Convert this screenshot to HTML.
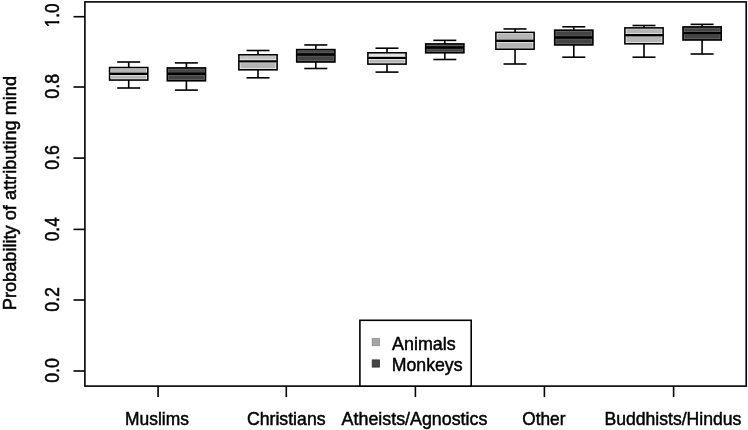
<!DOCTYPE html>
<html><head><meta charset="utf-8"><title>Probability of attributing mind</title>
<style>
html,body{margin:0;padding:0;background:#fff;}
svg{display:block;font-family:"Liberation Sans",Arial,Helvetica,sans-serif;font-size:19.0px;}
text{fill:#000;stroke:#000;stroke-width:0.5px;}
</style></head><body>
<svg width="748" height="430" viewBox="0 0 748 430">
<rect x="0" y="0" width="748" height="430" fill="#fff"/>

<rect x="84.9" y="1.9" width="661.3" height="384.2" fill="none" stroke="#000" stroke-width="1.6"/>
<line x1="73.5" y1="16.7" x2="84.9" y2="16.7" stroke="#000" stroke-width="1.6"/>
<line x1="73.5" y1="87.0" x2="84.9" y2="87.0" stroke="#000" stroke-width="1.6"/>
<line x1="73.5" y1="158.1" x2="84.9" y2="158.1" stroke="#000" stroke-width="1.6"/>
<line x1="73.5" y1="229.4" x2="84.9" y2="229.4" stroke="#000" stroke-width="1.6"/>
<line x1="73.5" y1="300.0" x2="84.9" y2="300.0" stroke="#000" stroke-width="1.6"/>
<line x1="73.5" y1="371.0" x2="84.9" y2="371.0" stroke="#000" stroke-width="1.6"/>
<line x1="158.1" y1="386.1" x2="158.1" y2="397.1" stroke="#000" stroke-width="1.6"/>
<line x1="286.3" y1="386.1" x2="286.3" y2="397.1" stroke="#000" stroke-width="1.6"/>
<line x1="415.4" y1="386.1" x2="415.4" y2="397.1" stroke="#000" stroke-width="1.6"/>
<line x1="544.4" y1="386.1" x2="544.4" y2="397.1" stroke="#000" stroke-width="1.6"/>
<line x1="673.6" y1="386.1" x2="673.6" y2="397.1" stroke="#000" stroke-width="1.6"/>
<g stroke="#000" stroke-width="1.6" fill="none">
<line x1="128.7" y1="62.0" x2="128.7" y2="88.0"/>
<line x1="117.2" y1="62.0" x2="140.2" y2="62.0"/>
<line x1="117.2" y1="88.0" x2="140.2" y2="88.0"/>
<rect x="109.6" y="67.55" width="38.2" height="12.5" fill="#fff"/>
<rect x="111.1" y="68.9" width="35.2" height="9.8" fill="#b4b4b4" stroke="none"/>
<rect x="110.4" y="72.0" width="36.6" height="3.5" fill="#fff" stroke="none"/>
<line x1="109.6" y1="73.8" x2="147.8" y2="73.8" stroke-width="2.4"/>
</g>
<g stroke="#000" stroke-width="1.6" fill="none">
<line x1="186.4" y1="62.9" x2="186.4" y2="90.1"/>
<line x1="174.9" y1="62.9" x2="197.9" y2="62.9"/>
<line x1="174.9" y1="90.1" x2="197.9" y2="90.1"/>
<rect x="167.3" y="67.9" width="38.2" height="12.9" fill="#444444"/>
<rect x="168.6" y="69.2" width="35.6" height="10.3" fill="none" stroke="#6e6e6e" stroke-width="0.6"/>
<rect x="168.6" y="72.1" width="35.6" height="3.2" fill="none" stroke="#6e6e6e" stroke-width="0.5"/>
<line x1="167.3" y1="73.7" x2="205.5" y2="73.7" stroke-width="2.4"/>
</g>
<g stroke="#000" stroke-width="1.6" fill="none">
<line x1="258.0" y1="50.5" x2="258.0" y2="77.8"/>
<line x1="246.5" y1="50.5" x2="269.5" y2="50.5"/>
<line x1="246.5" y1="77.8" x2="269.5" y2="77.8"/>
<rect x="238.9" y="54.8" width="38.2" height="15.0" fill="#fff"/>
<rect x="240.4" y="56.1" width="35.2" height="12.3" fill="#b4b4b4" stroke="none"/>
<rect x="240.4" y="56.1" width="35.2" height="5.2" fill="#c4c4c4" stroke="none"/>
<rect x="239.7" y="59.6" width="36.6" height="3.5" fill="#fff" stroke="none"/>
<line x1="238.9" y1="61.35" x2="277.1" y2="61.35" stroke-width="2.4"/>
</g>
<g stroke="#000" stroke-width="1.6" fill="none">
<line x1="315.8" y1="44.95" x2="315.8" y2="68.5"/>
<line x1="304.3" y1="44.95" x2="327.3" y2="44.95"/>
<line x1="304.3" y1="68.5" x2="327.3" y2="68.5"/>
<rect x="296.7" y="49.6" width="38.2" height="12.4" fill="#444444"/>
<rect x="298.0" y="50.9" width="35.6" height="9.8" fill="none" stroke="#6e6e6e" stroke-width="0.6"/>
<rect x="298.0" y="52.9" width="35.6" height="3.2" fill="none" stroke="#6e6e6e" stroke-width="0.5"/>
<line x1="296.7" y1="54.45" x2="334.9" y2="54.45" stroke-width="2.4"/>
</g>
<g stroke="#000" stroke-width="1.6" fill="none">
<line x1="387.0" y1="48.2" x2="387.0" y2="72.1"/>
<line x1="375.5" y1="48.2" x2="398.5" y2="48.2"/>
<line x1="375.5" y1="72.1" x2="398.5" y2="72.1"/>
<rect x="367.9" y="52.8" width="38.2" height="11.3" fill="#fff"/>
<rect x="369.4" y="54.1" width="35.2" height="8.6" fill="#b4b4b4" stroke="none"/>
<rect x="369.4" y="54.1" width="35.2" height="3.8" fill="#e6e6e6" stroke="none"/>
<rect x="368.7" y="56.1" width="36.6" height="3.5" fill="#fff" stroke="none"/>
<line x1="367.9" y1="57.9" x2="406.1" y2="57.9" stroke-width="2.4"/>
</g>
<g stroke="#000" stroke-width="1.6" fill="none">
<line x1="444.8" y1="40.35" x2="444.8" y2="59.5"/>
<line x1="433.3" y1="40.35" x2="456.3" y2="40.35"/>
<line x1="433.3" y1="59.5" x2="456.3" y2="59.5"/>
<rect x="425.7" y="43.9" width="38.2" height="8.9" fill="#444444"/>
<rect x="427.0" y="45.2" width="35.6" height="6.3" fill="none" stroke="#6e6e6e" stroke-width="0.6"/>
<rect x="427.0" y="45.9" width="35.6" height="3.2" fill="none" stroke="#6e6e6e" stroke-width="0.5"/>
<line x1="425.7" y1="47.5" x2="463.9" y2="47.5" stroke-width="2.4"/>
</g>
<g stroke="#000" stroke-width="1.6" fill="none">
<line x1="515.05" y1="28.95" x2="515.05" y2="64.0"/>
<line x1="503.5" y1="28.95" x2="526.5" y2="28.95"/>
<line x1="503.5" y1="64.0" x2="526.5" y2="64.0"/>
<rect x="495.9" y="32.4" width="38.2" height="16.8" fill="#fff"/>
<rect x="497.4" y="33.8" width="35.2" height="14.1" fill="#b4b4b4" stroke="none"/>
<rect x="496.7" y="39.0" width="36.6" height="3.5" fill="#fff" stroke="none"/>
<line x1="495.9" y1="40.7" x2="534.1" y2="40.7" stroke-width="2.4"/>
</g>
<g stroke="#000" stroke-width="1.6" fill="none">
<line x1="573.8" y1="26.8" x2="573.8" y2="57.2"/>
<line x1="562.3" y1="26.8" x2="585.3" y2="26.8"/>
<line x1="562.3" y1="57.2" x2="585.3" y2="57.2"/>
<rect x="554.7" y="30.15" width="38.2" height="14.8" fill="#444444"/>
<rect x="556.0" y="31.4" width="35.6" height="12.2" fill="none" stroke="#6e6e6e" stroke-width="0.6"/>
<rect x="556.0" y="35.9" width="35.6" height="3.2" fill="none" stroke="#6e6e6e" stroke-width="0.5"/>
<line x1="554.7" y1="37.55" x2="592.9" y2="37.55" stroke-width="2.4"/>
</g>
<g stroke="#000" stroke-width="1.6" fill="none">
<line x1="644.0" y1="25.5" x2="644.0" y2="57.2"/>
<line x1="632.5" y1="25.5" x2="655.5" y2="25.5"/>
<line x1="632.5" y1="57.2" x2="655.5" y2="57.2"/>
<rect x="624.9" y="27.9" width="38.2" height="15.9" fill="#fff"/>
<rect x="626.4" y="29.2" width="35.2" height="13.2" fill="#b4b4b4" stroke="none"/>
<rect x="625.7" y="33.5" width="36.6" height="3.5" fill="#fff" stroke="none"/>
<line x1="624.9" y1="35.2" x2="663.1" y2="35.2" stroke-width="2.4"/>
</g>
<g stroke="#000" stroke-width="1.6" fill="none">
<line x1="702.1" y1="24.35" x2="702.1" y2="54.0"/>
<line x1="690.6" y1="24.35" x2="713.6" y2="24.35"/>
<line x1="690.6" y1="54.0" x2="713.6" y2="54.0"/>
<rect x="683.0" y="26.9" width="38.2" height="13.1" fill="#444444"/>
<rect x="684.3" y="28.2" width="35.6" height="10.5" fill="none" stroke="#6e6e6e" stroke-width="0.6"/>
<rect x="684.3" y="31.5" width="35.6" height="3.2" fill="none" stroke="#6e6e6e" stroke-width="0.5"/>
<line x1="683.0" y1="33.1" x2="721.2" y2="33.1" stroke-width="2.4"/>
</g>
<rect x="359.9" y="320.3" width="111.3" height="65.8" fill="#fff" stroke="#000" stroke-width="1.6"/>
<rect x="372.2" y="338.5" width="7.2" height="7.2" fill="#a4a4a4" stroke="#8c8c8c" stroke-width="0.8"/>
<rect x="372.2" y="359.9" width="7.2" height="7.2" fill="#444" stroke="#2e2e2e" stroke-width="0.8"/>
<text font-size="19.0" x="125.00" y="424.65" textLength="63.86" lengthAdjust="spacingAndGlyphs">Muslims</text>
<text font-size="19.0" x="246.88" y="424.65" textLength="78.71" lengthAdjust="spacingAndGlyphs">Christians</text>
<text font-size="19.0" x="341.62" y="424.65" textLength="145.76" lengthAdjust="spacingAndGlyphs">Atheists/Agnostics</text>
<text font-size="19.0" x="522.35" y="424.65" textLength="43.09" lengthAdjust="spacingAndGlyphs">Other</text>
<text font-size="19.0" x="604.43" y="424.65" textLength="136.99" lengthAdjust="spacingAndGlyphs">Buddhists/Hindus</text>
<text font-size="19.0" x="392.09" y="350.05" textLength="63.61" lengthAdjust="spacingAndGlyphs">Animals</text>
<text font-size="19.0" x="391.77" y="371.05" textLength="70.73" lengthAdjust="spacingAndGlyphs">Monkeys</text>
<text font-size="18.9" transform="translate(15.80,310.16) rotate(-90)" textLength="234.23" lengthAdjust="spacingAndGlyphs">Probability of attributing mind</text>
<text font-size="19.6" transform="translate(58.90,27.33) rotate(-90)" textLength="23.93" lengthAdjust="spacingAndGlyphs">1.0</text>
<text font-size="19.6" transform="translate(58.90,98.64) rotate(-90)" textLength="24.87" lengthAdjust="spacingAndGlyphs">0.8</text>
<text font-size="19.6" transform="translate(58.90,169.80) rotate(-90)" textLength="24.76" lengthAdjust="spacingAndGlyphs">0.6</text>
<text font-size="19.6" transform="translate(58.90,241.22) rotate(-90)" textLength="23.99" lengthAdjust="spacingAndGlyphs">0.4</text>
<text font-size="19.6" transform="translate(58.90,311.81) rotate(-90)" textLength="24.79" lengthAdjust="spacingAndGlyphs">0.2</text>
<text font-size="19.6" transform="translate(58.90,382.81) rotate(-90)" textLength="24.73" lengthAdjust="spacingAndGlyphs">0.0</text>
<rect x="56.5" y="17.3" width="3.6" height="3.75" fill="#fff"/><rect x="56.5" y="23.45" width="3.6" height="3.6" fill="#fff"/>
</svg></body></html>
